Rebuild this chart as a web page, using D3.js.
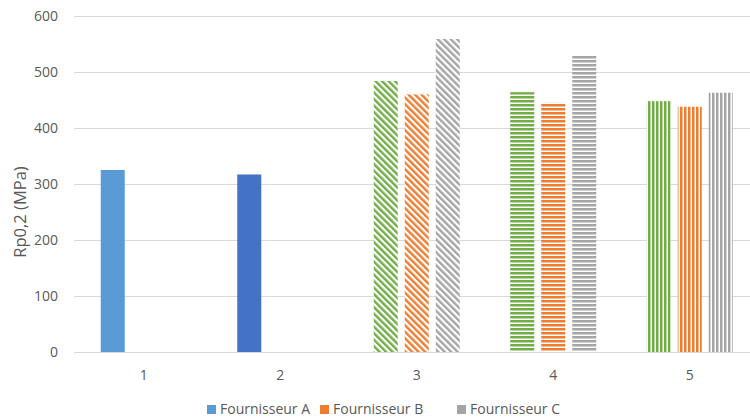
<!DOCTYPE html>
<html>
<head>
<meta charset="utf-8">
<script src="https://cdn.jsdelivr.net/npm/d3@7/dist/d3.min.js"></script>
<style>
  html, body { margin: 0; padding: 0; background: #fff; }
  svg { display: block; font-family: "Open Sans", "Noto Sans", sans-serif; }
</style>
</head>
<body>
<svg id="chart" width="750" height="418"></svg>
<script>
// Categories (test groups) and the three suppliers
const categories = ["1", "2", "3", "4", "5"];
const seriesNames = ["Fournisseur A", "Fournisseur B", "Fournisseur C"];

// Rp0,2 values in MPa, one array per supplier (null = no bar)
const fournisseurA = [325, 317, 484, 464, 448];
const fournisseurB = [null, null, 460, 445, 438];
const fournisseurC = [null, null, 559, 530, 463];

const yTicks = [0, 100, 200, 300, 400, 500, 600];

// Fill style per category: solid for 1-2, striped for 3-5
const fillStyle = ["solid", "solid", "diag", "horiz", "vert"];
// Per-category colour of the first series bar
const colorA = ["#5B9BD5", "#4472C4", "#70AD47", "#70AD47", "#70AD47"];
const colorB = "#ED7D31";
const colorC = "#A5A5A5";
const legendColors = ["#5B9BD5", "#ED7D31", "#A5A5A5"];

const svg = d3.select("#chart");
const defs = svg.append("defs");

const y = d3.scaleLinear().domain([0, 600]).range([352, 16]);
const x = d3.scaleBand().domain(categories).range([75.5, 758]).paddingInner(0).paddingOuter(0);
const xs = d3.scaleBand().domain(seriesNames).paddingInner(7 / 31).paddingOuter(0);

// Stripe patterns
function patternId(color, style) {
  return "p-" + style + "-" + color.replace("#", "");
}
const made = new Set();
function makePattern(color, style) {
  const id = patternId(color, style);
  if (made.has(id)) return id;
  made.add(id);
  if (style === "diag") {
    const p = defs.append("pattern").attr("id", id).attr("patternUnits", "userSpaceOnUse")
      .attr("width", 4.6).attr("height", 4.6).attr("patternTransform", "rotate(-45)");
    p.append("rect").attr("width", 4.6).attr("height", 4.6).attr("fill", "#fff");
    p.append("rect").attr("width", 2.4).attr("height", 4.6).attr("fill", color);
  } else if (style === "horiz") {
    const p = defs.append("pattern").attr("id", id).attr("patternUnits", "userSpaceOnUse")
      .attr("width", 4).attr("height", 4);
    p.append("rect").attr("width", 4).attr("height", 4).attr("fill", "#fff");
    p.append("rect").attr("width", 4).attr("height", 2.5).attr("fill", color);
  } else if (style === "vert") {
    const p = defs.append("pattern").attr("id", id).attr("patternUnits", "userSpaceOnUse")
      .attr("width", 4).attr("height", 4);
    p.append("rect").attr("width", 4).attr("height", 4).attr("fill", "#fff");
    p.append("rect").attr("width", 2.5).attr("height", 4).attr("fill", color);
  }
  return id;
}
function fillFor(color, style) {
  if (style === "solid") return color;
  return "url(#" + makePattern(color, style) + ")";
}

// Gridlines
svg.append("g").selectAll("line").data(yTicks).join("line")
  .attr("x1", 74).attr("x2", 750)
  .attr("y1", d => Math.round(y(d)) + 0.5).attr("y2", d => Math.round(y(d)) + 0.5)
  .attr("stroke", "#D9D9D9").attr("stroke-width", 1);

// Y tick labels
svg.append("g").selectAll("text").data(yTicks).join("text")
  .attr("x", 58).attr("y", d => y(d)).attr("dy", "0.35em")
  .attr("text-anchor", "end").attr("font-size", 14).attr("fill", "#595959")
  .text(d => d);

// Y axis title
svg.append("text")
  .attr("transform", "translate(26,212) rotate(-90)")
  .attr("text-anchor", "middle").attr("font-size", 16.5).attr("fill", "#595959")
  .text("Rp0,2 (MPa)");

// X category labels
svg.append("g").selectAll("text").data(categories).join("text")
  .attr("x", d => x(d) + x.bandwidth() / 2).attr("y", 375)
  .attr("dy", "0.35em").attr("text-anchor", "middle")
  .attr("font-size", 14).attr("fill", "#595959")
  .text(d => d);

// Bars
const rows = [];
categories.forEach((c, i) => {
  const vals = [fournisseurA[i], fournisseurB[i], fournisseurC[i]];
  const cols = [colorA[i], colorB, colorC];
  vals.forEach((v, j) => {
    if (v == null) return;
    rows.push({ cat: c, series: seriesNames[j], value: v, fill: fillFor(cols[j], fillStyle[i]) });
  });
});

svg.append("g").selectAll("rect").data(rows).join("rect")
  .attr("x", d => {
    const cx = x(d.cat) + x.bandwidth() / 2;
    xs.range([cx - 43, cx + 43]);
    return xs(d.series);
  })
  .attr("width", () => xs.bandwidth())
  .attr("y", d => y(d.value))
  .attr("height", d => y(0) - y(d.value))
  .attr("fill", d => d.fill);

// Legend
const legendX = [207, 320, 457];
const legend = svg.append("g");
seriesNames.forEach((name, i) => {
  legend.append("rect").attr("x", legendX[i]).attr("y", 405).attr("width", 9).attr("height", 9)
    .attr("fill", legendColors[i]);
  legend.append("text").attr("x", legendX[i] + 13).attr("y", 409.5).attr("dy", "0.35em")
    .attr("font-size", 14).attr("fill", "#595959").text(name);
});
</script>
</body>
</html>
